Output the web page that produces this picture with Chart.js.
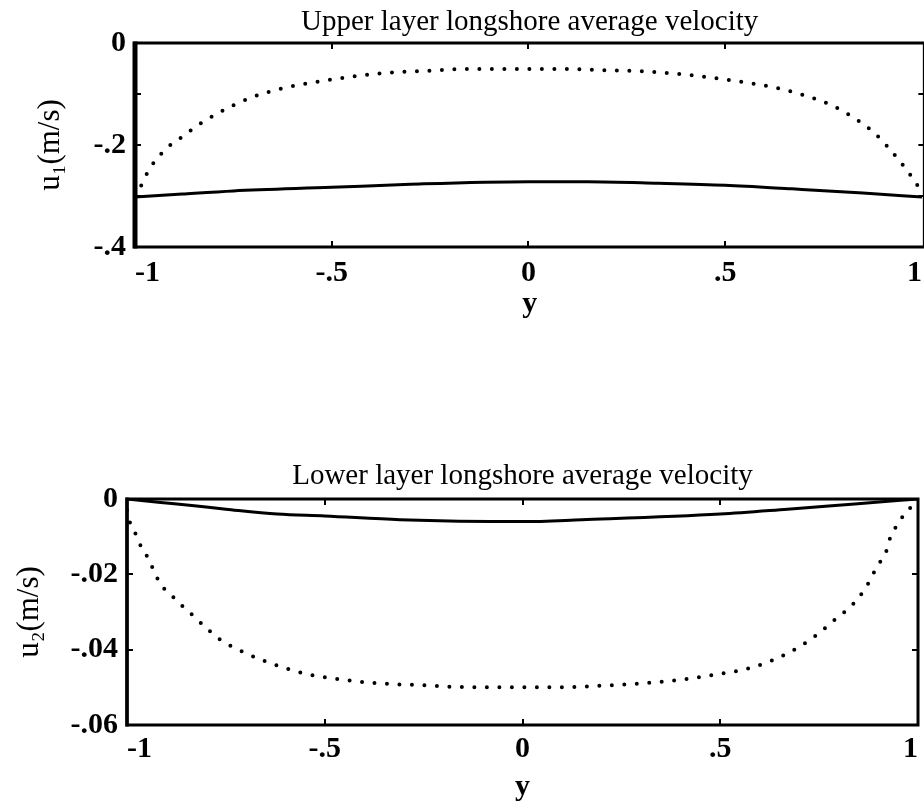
<!DOCTYPE html>
<html><head><meta charset="utf-8">
<script src="https://cdn.jsdelivr.net/npm/chart.js@4/dist/chart.umd.min.js"></script>
<style>
html,body{margin:0;padding:0;background:#fff;width:924px;height:806px;overflow:hidden;position:relative;}
canvas{position:absolute;left:0;display:block;}
#c1{top:0;}
#c2{top:430px;}
</style></head><body>
<canvas id="c1" width="930" height="330" style="width:930px;height:330px"></canvas>
<canvas id="c2" width="924" height="376" style="width:924px;height:376px"></canvas>
<script>
// ---- data ----
const xTickValues = [-1, -0.5, 0, 0.5, 1];
const upperTitle = 'Upper layer longshore average velocity';
const lowerTitle = 'Lower layer longshore average velocity';
const upperYLabel = 'u\u2081(m/s)';
const lowerYLabel = 'u\u2082(m/s)';
const xLabel = 'y';

const upperSolidX = [-1, -0.88, -0.75, -0.5, -0.3, 0, 0.15, 0.33, 0.5, 0.67, 0.85, 1];
const upperSolidY = [-0.302, -0.296, -0.290, -0.283, -0.277, -0.272, -0.272, -0.275, -0.279, -0.286, -0.294, -0.302];

const upperDotX = [-1, -0.99, -0.965, -0.94, -0.915, -0.88, -0.84, -0.79, -0.75, -0.705, -0.62, -0.535, -0.45, -0.37, -0.24, -0.17, 0.08, 0.18, 0.30, 0.41, 0.54, 0.625, 0.71, 0.77, 0.83, 0.88, 0.92, 0.955, 0.98, 1];
const upperDotY = [-0.300, -0.288, -0.249, -0.223, -0.203, -0.184, -0.161, -0.138, -0.122, -0.107, -0.088, -0.076, -0.066, -0.059, -0.054, -0.051, -0.051, -0.053, -0.056, -0.063, -0.076, -0.087, -0.105, -0.122, -0.148, -0.177, -0.210, -0.243, -0.269, -0.294];

const lowerSolidX = [-1, -0.915, -0.83, -0.75, -0.62, -0.5, -0.31, 0, 0.15, 0.5, 0.67, 0.84, 1];
const lowerSolidY = [0, -0.0009, -0.0018, -0.0027, -0.0040, -0.0045, -0.0055, -0.0060, -0.0055, -0.0040, -0.0027, -0.0013, 0];

const lowerDotX = [-1, -0.99, -0.978, -0.965, -0.95, -0.93, -0.915, -0.89, -0.87, -0.85, -0.80, -0.765, -0.71, -0.66, -0.60, -0.535, -0.45, -0.37, -0.24, -0.17, 0.08, 0.245, 0.375, 0.5, 0.585, 0.67, 0.735, 0.79, 0.835, 0.87, 0.895, 0.92, 0.93, 0.955, 0.97, 0.99, 1];
const lowerDotY = [-0.0030, -0.0071, -0.0093, -0.0125, -0.0151, -0.0195, -0.0227, -0.0253, -0.0275, -0.0293, -0.0342, -0.0373, -0.0404, -0.0427, -0.0449, -0.0467, -0.0480, -0.0489, -0.0495, -0.0499, -0.0500, -0.0493, -0.0483, -0.0464, -0.0446, -0.0410, -0.0368, -0.0320, -0.0280, -0.0232, -0.0182, -0.0138, -0.0102, -0.0058, -0.0032, -0.0018, -0.0010];

const upperYTicks = [-0.4, -0.3, -0.2, -0.1, 0];
const upperYLabels = [-0.4, -0.2, 0];
const lowerYTicks = [-0.06, -0.04, -0.02, 0];
const lowerYLabels = [-0.06, -0.04, -0.02, 0];

// ---- helpers ----
const FONT = "'Liberation Serif', 'Times New Roman', serif";
function pts(xs, ys) { return xs.map((x, i) => ({x: x, y: ys[i]})); }
function fmt(v) {
  if (Math.abs(v) < 1e-9) return '0';
  let s = String(+v.toFixed(4));
  return s.replace(/^(-?)0\./, '$1.');
}

const frameTicks = {
  id: 'frameTicks',
  afterDraw(chart, args, opts) {
    const ctx = chart.ctx, a = chart.chartArea;
    const xs = chart.scales.x, ys = chart.scales.y;
    const L = 6;
    ctx.save();
    ctx.strokeStyle = '#000';
    ctx.lineWidth = 2;
    ctx.beginPath();
    xs.ticks.forEach(t => {
      const p = Math.round(xs.getPixelForValue(t.value));
      if (p < a.left + 6 || p > a.right - 6) return;
      ctx.moveTo(p, a.bottom); ctx.lineTo(p, a.bottom - L);
      ctx.moveTo(p, a.top); ctx.lineTo(p, a.top + L);
    });
    ys.ticks.forEach(t => {
      const p = Math.round(ys.getPixelForValue(t.value));
      if (p < a.top + 6 || p > a.bottom - 6) return;
      ctx.moveTo(a.left, p); ctx.lineTo(a.left + L, p);
      ctx.moveTo(a.right, p); ctx.lineTo(a.right - L, p);
    });
    ctx.stroke();
    ctx.lineWidth = 3;
    ctx.strokeRect(a.left, a.top, a.right - a.left, a.bottom - a.top);
    ctx.lineWidth = opts.leftWidth || 4;
    ctx.beginPath();
    ctx.moveTo(a.left, a.top - 1.5); ctx.lineTo(a.left, a.bottom + 1.5);
    ctx.stroke();
    ctx.restore();
  }
};

function makeChart(id, cfg) {
  const solid = {
    data: pts(cfg.solidX, cfg.solidY),
    borderColor: '#000', borderWidth: 3, pointRadius: 0,
    cubicInterpolationMode: 'monotone', fill: false
  };
  const dotted = {
    data: pts(cfg.dotX, cfg.dotY),
    borderColor: '#000', borderWidth: 4, pointRadius: 0,
    borderDash: [0, 12.5], borderCapStyle: 'round',
    cubicInterpolationMode: 'monotone', fill: false
  };
  return new Chart(document.getElementById(id), {
    type: 'line',
    data: {datasets: [solid, dotted]},
    options: {
      responsive: false, maintainAspectRatio: false, animation: false,
      devicePixelRatio: 1,
      layout: {padding: {left: 0, right: cfg.padRight, top: 0, bottom: 0}},
      plugins: {
        legend: {display: false}, tooltip: {enabled: false},
        title: {
          display: true, text: cfg.title, fullSize: false, color: '#000',
          font: {family: FONT, size: 29, weight: 'normal', lineHeight: 1},
          padding: {top: cfg.titlePadTop, bottom: cfg.titlePadBottom}
        },
        frameTicks: {leftWidth: cfg.leftWidth}
      },
      scales: {
        x: {
          type: 'linear', min: -1, max: cfg.xMax,
          afterBuildTicks: s => { s.ticks = xTickValues.map(v => ({value: v})); },
          afterFit: s => { s.height = cfg.xHeight; },
          grid: {display: false, drawTicks: false}, border: {display: false},
          ticks: {
            align: 'inner', color: '#000', padding: cfg.xTickPad,
            font: {family: FONT, size: 30, weight: 'bold', lineHeight: 1.2},
            callback: v => fmt(v), maxRotation: 0, autoSkip: false
          },
          title: {
            display: true, text: xLabel, color: '#000',
            font: {family: FONT, size: 30, weight: 'bold', lineHeight: 1.2},
            padding: {top: 0, bottom: cfg.xTitlePadBottom}
          }
        },
        y: {
          type: 'linear', min: cfg.yMin, max: cfg.yMax,
          afterBuildTicks: s => { s.ticks = cfg.yTicks.map(v => ({value: v})); },
          afterFit: s => { s.width = cfg.yWidth; },
          grid: {display: false, drawTicks: false}, border: {display: false},
          ticks: {
            color: '#000', padding: 9, autoSkip: false,
            font: {family: FONT, size: 30, weight: 'bold'},
            callback: v => (cfg.yLabels.some(l => Math.abs(l - v) < 1e-9) ? fmt(v) : '')
          },
          title: {
            display: true, text: cfg.yTitle, color: '#000',
            font: {family: FONT, size: 31, weight: 'normal', lineHeight: 1.2},
            padding: {top: cfg.yTitlePadTop, bottom: 0}
          }
        }
      }
    },
    plugins: [frameTicks]
  });
}

makeChart('c1', {
  title: upperTitle, yTitle: upperYLabel,
  solidX: upperSolidX, solidY: upperSolidY, dotX: upperDotX, dotY: upperDotY,
  xMax: 1.006,
  yMin: -0.4, yMax: 0, yTicks: upperYTicks, yLabels: upperYLabels,
  padRight: 4, yWidth: 135, xHeight: 83,
  titlePadTop: 7.5, titlePadBottom: 6.5,
  xTickPad: 8, xTitlePadBottom: 8, yTitlePadTop: 32, leftWidth: 5
});

makeChart('c2', {
  title: lowerTitle, yTitle: lowerYLabel,
  solidX: lowerSolidX, solidY: lowerSolidY, dotX: lowerDotX, dotY: lowerDotY,
  xMax: 1,
  yMin: -0.06, yMax: 0, yTicks: lowerYTicks, yLabels: lowerYLabels,
  padRight: 2, yWidth: 127, xHeight: 81,
  titlePadTop: 31.5, titlePadBottom: 8.5,
  xTickPad: 6, xTitlePadBottom: 1, yTitlePadTop: 11, leftWidth: 3.5
});
</script>
</body></html>
